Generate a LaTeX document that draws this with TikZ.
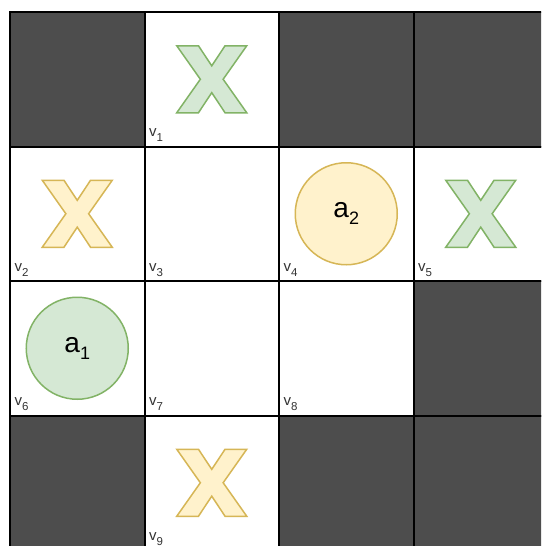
\documentclass[tikz,border=0pt]{standalone}
\usepackage{fontspec}
\setmainfont{Liberation Sans}
\definecolor{darkcell}{HTML}{4D4D4D}
\definecolor{gfill}{HTML}{D5E8D4}
\definecolor{gline}{HTML}{82B366}
\definecolor{yfill}{HTML}{FFF2CC}
\definecolor{yline}{HTML}{D6B656}
\definecolor{labelgray}{HTML}{333333}
\newcommand{\vsub}[1]{\raisebox{-5pt}{\fontsize{11.5}{12}\selectfont #1}}
\newcommand{\asub}[1]{\raisebox{-7pt}{\fontsize{18}{18}\selectfont #1}}
\tikzset{
  cell/.style={draw=black, line width=2pt, minimum size=134.5pt, inner sep=0pt, outer sep=0pt, anchor=north west, fill=white},
  darkbox/.style={cell, fill=darkcell},
  vlabel/.style={anchor=base west, inner sep=0pt, text=labelgray, font=\fontsize{15}{15}\selectfont},
  agent/.style={circle, line width=1.5pt, minimum size=102pt, inner sep=0pt, font=\fontsize{28}{28}\selectfont},
  greenagent/.style={agent, draw=gline, fill=gfill},
  yellowagent/.style={agent, draw=yline, fill=yfill},
  greenx/.style={draw=gline, fill=gfill, line width=1.5pt, line join=miter},
  yellowx/.style={draw=yline, fill=yfill, line width=1.5pt, line join=miter},
  xmark/.pic={
    \path[pic actions] (-35,-33.5) -- (-13.3,-33.5) -- (0,-13.4) -- (13.3,-33.5) -- (35,-33.5)
      -- (11.4,0) -- (35,33.5) -- (13.3,33.5) -- (0,13.4) -- (-13.3,33.5) -- (-35,33.5)
      -- (-11.4,0) -- cycle;
  }
}
\begin{document}
\begin{tikzpicture}[x=1pt,y=-1pt]
\path[use as bounding box, fill=white] (0,0) rectangle (541,546);
\clip (0,0) rectangle (541,546);
% row 0
\node[darkbox] (d1) at (10,12) {};
\node[cell] (v1) at (144.5,12) {};
\node[darkbox] (d2) at (279,12) {};
\node[darkbox] (d3) at (413.5,12) {};
% row 1
\node[cell] (v2) at (10,146.5) {};
\node[cell] (v3) at (144.5,146.5) {};
\node[cell] (v4) at (279,146.5) {};
\node[cell] (v5) at (413.5,146.5) {};
% row 2
\node[cell] (v6) at (10,281) {};
\node[cell] (v7) at (144.5,281) {};
\node[cell] (v8) at (279,281) {};
\node[darkbox] (d4) at (413.5,281) {};
% row 3
\node[darkbox] (d5) at (10,415.5) {};
\node[cell] (v9) at (144.5,415.5) {};
\node[darkbox] (d6) at (279,415.5) {};
\node[darkbox] (d7) at (413.5,415.5) {};
% labels
\foreach \i in {1,...,9}{
  \node[vlabel] (l\i) at ([xshift=4.5pt,yshift=9.8pt]v\i.south west) {v\vsub{\i}};
}
% X marks
\pic[greenx] (x1) at (v1.center) {xmark};
\pic[yellowx] (x2) at (v2.center) {xmark};
\pic[greenx] (x5) at (v5.center) {xmark};
\pic[yellowx] (x9) at (v9.center) {xmark};
% agents
\node[yellowagent] (a2) at (v4.center) {a\asub{2}};
\node[greenagent] (a1) at (v6.center) {a\asub{1}};
\end{tikzpicture}
\end{document}
